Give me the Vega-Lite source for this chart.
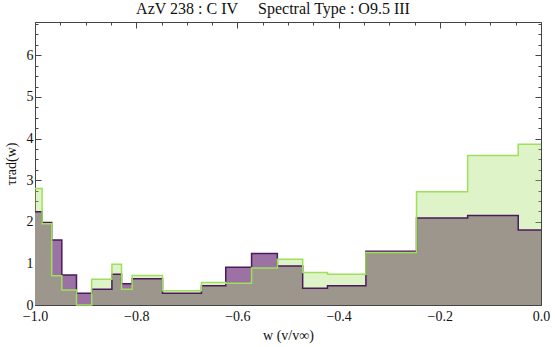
{
  "$schema": "https://vega.github.io/schema/vega-lite/v6.json",
  "autosize": {"type": "none"},
  "padding": {"left": 35, "top": 22, "right": 14, "bottom": 42},
  "width": 506,
  "height": 283,
  "title": {
    "text": "AzV 238 : C IV\u00a0\u00a0\u00a0\u00a0\u00a0Spectral Type : O9.5 III",
    "font": "Liberation Serif",
    "fontSize": 16,
    "fontWeight": "normal",
    "color": "#111",
    "anchor": "middle",
    "offset": 0,
    "dx": -15
  },
  "config": {
    "view": {"stroke": "#444", "strokeWidth": 1},
    "axis": {
      "grid": false,
      "domain": false,
      "tickColor": "#444",
      "labelFont": "Liberation Serif",
      "labelFontSize": 14,
      "labelColor": "#111",
      "titleFont": "Liberation Serif",
      "titleFontSize": 14,
      "titleFontWeight": "normal",
      "titleColor": "#111",
      "labelFlush": false,
      "labelOverlap": false
    }
  },
  "data": {
    "values": [
      {"w": -1.0, "p": 2.24, "g": 2.80},
      {"w": -0.986, "p": 1.98, "g": 1.95},
      {"w": -0.967, "p": 1.56, "g": 0.70},
      {"w": -0.947, "p": 0.72, "g": 0.36},
      {"w": -0.918, "p": 0.28, "g": 0.0},
      {"w": -0.888, "p": 0.38, "g": 0.62},
      {"w": -0.848, "p": 0.74, "g": 0.98},
      {"w": -0.829, "p": 0.51, "g": 0.38},
      {"w": -0.808, "p": 0.63, "g": 0.71},
      {"w": -0.748, "p": 0.28, "g": 0.34},
      {"w": -0.671, "p": 0.46, "g": 0.54},
      {"w": -0.623, "p": 0.91, "g": 0.52},
      {"w": -0.572, "p": 1.24, "g": 0.89},
      {"w": -0.521, "p": 0.94, "g": 1.10},
      {"w": -0.471, "p": 0.40, "g": 0.78},
      {"w": -0.422, "p": 0.46, "g": 0.74},
      {"w": -0.346, "p": 1.29, "g": 1.26},
      {"w": -0.246, "p": 2.09, "g": 2.72},
      {"w": -0.145, "p": 2.15, "g": 3.59},
      {"w": -0.045, "p": 1.80, "g": 3.86},
      {"w": 0.0, "p": 1.80, "g": 3.86}
    ]
  },
  "layer": [
    {
      "mark": {"type": "area", "interpolate": "step-after", "color": "#9b72a3", "opacity": 1},
      "encoding": {
        "x": {
          "field": "w", "type": "quantitative",
          "scale": {"domain": [-1, 0], "nice": false, "zero": false},
          "axis": {
            "orient": "bottom",
            "title": "w (v/v\u221e)",
            "titlePadding": 2,
            "values": [-1, -0.95, -0.9, -0.85, -0.8, -0.75, -0.7, -0.65, -0.6, -0.55, -0.5, -0.45, -0.4, -0.35, -0.3, -0.25, -0.2, -0.15, -0.1, -0.05, 0],
            "labelExpr": "abs(datum.value*5 - round(datum.value*5)) < 0.001 ? format(datum.value, '.1f') : ''",
            "tickSize": {"condition": {"test": "abs(datum.value*5 - round(datum.value*5)) < 0.001", "value": -6}, "value": -3},
            "labelPadding": 10
          }
        },
        "y": {
          "field": "p", "type": "quantitative",
          "scale": {"domain": [0, 6.8], "nice": false},
          "axis": {
            "orient": "left",
            "title": "\u03c4rad(w)",
            "titlePadding": 8,
            "values": [0, 0.25, 0.5, 0.75, 1, 1.25, 1.5, 1.75, 2, 2.25, 2.5, 2.75, 3, 3.25, 3.5, 3.75, 4, 4.25, 4.5, 4.75, 5, 5.25, 5.5, 5.75, 6, 6.25, 6.5, 6.75],
            "labelExpr": "abs(datum.value - round(datum.value)) < 0.001 ? format(datum.value, 'd') : ''",
            "tickSize": {"condition": {"test": "abs(datum.value - round(datum.value)) < 0.001", "value": -6}, "value": -3},
            "labelPadding": 8
          }
        }
      }
    },
    {
      "mark": {"type": "area", "interpolate": "step-after", "color": "rgb(161,220,96)", "opacity": 0.34},
      "encoding": {
        "x": {"field": "w", "type": "quantitative", "axis": null},
        "y": {"field": "g", "type": "quantitative", "axis": null}
      }
    },
    {
      "mark": {"type": "line", "interpolate": "step-after", "color": "#4b1a5e", "strokeWidth": 1.5},
      "encoding": {
        "x": {"field": "w", "type": "quantitative", "axis": null},
        "y": {"field": "p", "type": "quantitative", "axis": null}
      }
    },
    {
      "mark": {"type": "line", "interpolate": "step-after", "color": "#9ee05a", "strokeWidth": 1.5},
      "encoding": {
        "x": {
          "field": "w", "type": "quantitative",
          "axis": {
            "orient": "top",
            "title": null,
            "labels": false,
            "values": [-1, -0.95, -0.9, -0.85, -0.8, -0.75, -0.7, -0.65, -0.6, -0.55, -0.5, -0.45, -0.4, -0.35, -0.3, -0.25, -0.2, -0.15, -0.1, -0.05, 0],
            "tickSize": {"condition": {"test": "abs(datum.value*5 - round(datum.value*5)) < 0.001", "value": -6}, "value": -3}
          }
        },
        "y": {
          "field": "g", "type": "quantitative",
          "axis": {
            "orient": "right",
            "title": null,
            "labels": false,
            "values": [0, 0.25, 0.5, 0.75, 1, 1.25, 1.5, 1.75, 2, 2.25, 2.5, 2.75, 3, 3.25, 3.5, 3.75, 4, 4.25, 4.5, 4.75, 5, 5.25, 5.5, 5.75, 6, 6.25, 6.5, 6.75],
            "tickSize": {"condition": {"test": "abs(datum.value - round(datum.value)) < 0.001", "value": -6}, "value": -3}
          }
        }
      }
    }
  ],
  "resolve": {"axis": {"x": "independent", "y": "independent"}}
}
